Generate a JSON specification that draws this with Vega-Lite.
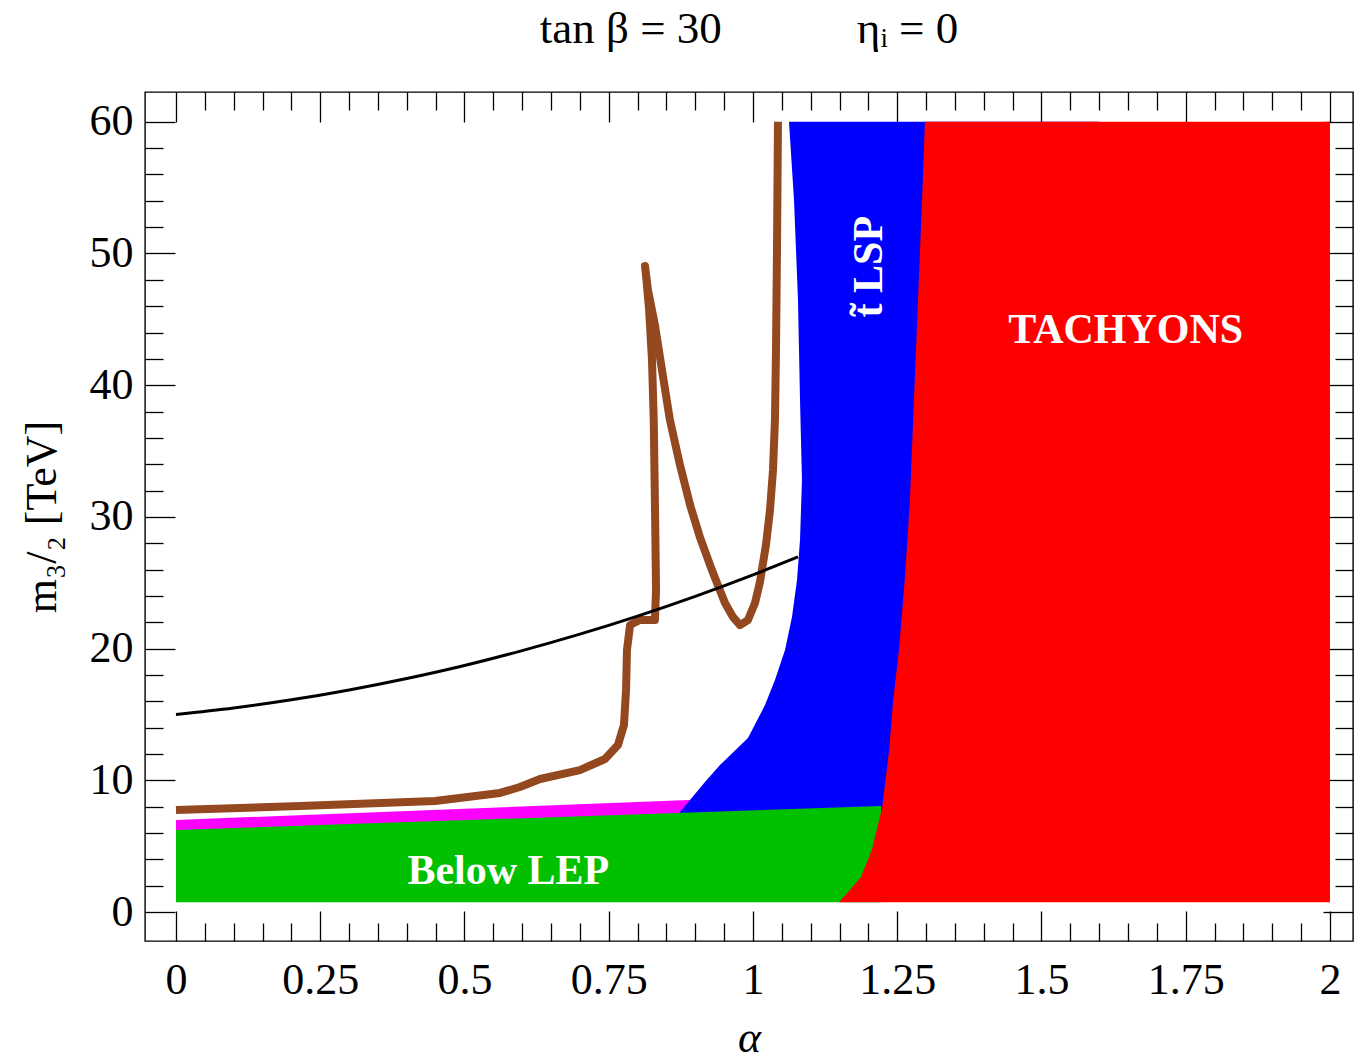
{
  "$schema": "https://vega.github.io/schema/vega-lite/v6.json",
  "width": 1208,
  "height": 849,
  "autosize": {"type": "none"},
  "padding": {"left": 145, "top": 92, "right": 1, "bottom": 120},
  "background": "white",
  "title": {
    "text": "tan β = 30\u2003\u2003\u2003ηᵢ = 0",
    "font": "Liberation Serif",
    "fontSize": 45,
    "fontWeight": "normal",
    "color": "black",
    "anchor": "middle",
    "frame": "group",
    "baseline": "alphabetic",
    "offset": 3
  },
  "config": {
    "view": {"stroke": "black", "strokeWidth": 1.4},
    "axis": {
      "domain": false,
      "grid": false,
      "tickColor": "black",
      "tickWidth": 1.3,
      "labelFont": "Liberation Serif",
      "labelFontSize": 44,
      "labelColor": "black",
      "labelOverlap": false,
      "labelFlush": false,
      "labelBound": false,
      "titleFont": "Liberation Serif",
      "titleFontSize": 44,
      "titleFontWeight": "normal",
      "titleColor": "black"
    }
  },
  "datasets": {
    "red": [
      {"a": 1.149, "m": 0.75}, {"a": 1.168, "m": 1.67}, {"a": 1.187, "m": 2.66},
      {"a": 1.206, "m": 4.71}, {"a": 1.224, "m": 7.97}, {"a": 1.236, "m": 12.3},
      {"a": 1.243, "m": 16.1}, {"a": 1.253, "m": 19.89}, {"a": 1.263, "m": 25.21},
      {"a": 1.272, "m": 31.28}, {"a": 1.279, "m": 38.88}, {"a": 1.286, "m": 46.47},
      {"a": 1.293, "m": 54.06}, {"a": 1.298, "m": 60}
    ],
    "blue": [
      {"a": 0.86, "m": 6.5}, {"a": 0.8666, "m": 7.21}, {"a": 0.8908, "m": 8.5},
      {"a": 0.9168, "m": 9.87}, {"a": 0.9428, "m": 11.16}, {"a": 0.9913, "m": 13.21},
      {"a": 1.0208, "m": 15.72}, {"a": 1.0381, "m": 17.62}, {"a": 1.0555, "m": 19.89},
      {"a": 1.0676, "m": 22.4}, {"a": 1.0763, "m": 25.21}, {"a": 1.0815, "m": 28.25},
      {"a": 1.0849, "m": 32.8}, {"a": 1.0815, "m": 38.88}, {"a": 1.078, "m": 46.47},
      {"a": 1.0711, "m": 54.06}, {"a": 1.0624, "m": 60}
    ],
    "green": [
      {"a": 0, "top": 6.23}, {"a": 1.222, "top": 8.05}
    ],
    "magenta": [
      {"a": 0, "top": 6.99, "bottom": 6.0}, {"a": 0.9, "top": 8.53, "bottom": 7.3}
    ],
    "brown": [
      {"a": 0, "m": 7.75}, {"a": 0.215, "m": 8.05}, {"a": 0.449, "m": 8.43},
      {"a": 0.5615, "m": 9.04}, {"a": 0.596, "m": 9.49}, {"a": 0.631, "m": 10.1},
      {"a": 0.7, "m": 10.78}, {"a": 0.7435, "m": 11.62}, {"a": 0.766, "m": 12.68},
      {"a": 0.7764, "m": 14.2}, {"a": 0.78, "m": 16.86}, {"a": 0.7816, "m": 19.89},
      {"a": 0.787, "m": 21.79}, {"a": 0.804, "m": 22.17}, {"a": 0.83, "m": 22.17},
      {"a": 0.832, "m": 24.45}, {"a": 0.83, "m": 31.28}, {"a": 0.828, "m": 37.36},
      {"a": 0.825, "m": 41.91}, {"a": 0.82, "m": 45.71}, {"a": 0.8146, "m": 48.37},
      {"a": 0.8128, "m": 49.05}, {"a": 0.818, "m": 47.23}, {"a": 0.83, "m": 44.57},
      {"a": 0.8423, "m": 41.15}, {"a": 0.856, "m": 37.36}, {"a": 0.8735, "m": 33.94},
      {"a": 0.891, "m": 30.9}, {"a": 0.908, "m": 28.47}, {"a": 0.9255, "m": 26.35},
      {"a": 0.9376, "m": 24.98}, {"a": 0.9515, "m": 23.46}, {"a": 0.9653, "m": 22.4},
      {"a": 0.9775, "m": 21.79}, {"a": 0.9913, "m": 22.17}, {"a": 1.0035, "m": 23.46},
      {"a": 1.0121, "m": 25.06}, {"a": 1.0225, "m": 27.87}, {"a": 1.0295, "m": 30.52},
      {"a": 1.0347, "m": 33.56}, {"a": 1.0381, "m": 37.36}, {"a": 1.0399, "m": 42.67},
      {"a": 1.0416, "m": 50.27}, {"a": 1.0433, "m": 60}
    ],
    "black": [
      {"a": 0, "m": 15.0}, {"a": 0.1, "m": 15.49}, {"a": 0.2, "m": 16.11},
      {"a": 0.3, "m": 16.86}, {"a": 0.4, "m": 17.73}, {"a": 0.5, "m": 18.72},
      {"a": 0.6, "m": 19.85}, {"a": 0.7, "m": 21.1}, {"a": 0.8, "m": 22.47},
      {"a": 0.9, "m": 23.97}, {"a": 1.0, "m": 25.6}, {"a": 1.078, "m": 26.96}
    ],
    "labels": [
      {"a": 1.646, "m": 44.2, "label": "TACHYONS"},
      {"a": 0.576, "m": 3.08, "label": "Below LEP"}
    ],
    "vlabels": [
      {"a": 1.201, "m": 49.0, "label": "t̃ LSP"}
    ]
  },
  "resolve": {"axis": {"x": "independent", "y": "independent"}},
  "layer": [
    {
      "data": {"name": "magenta"},
      "mark": {"type": "area", "color": "#ff00ff", "clip": true},
      "encoding": {
        "x": {"field": "a", "type": "quantitative", "scale": {"domain": [-0.0537, 2.0399], "nice": false, "zero": false},
          "axis": {
            "orient": "bottom",
            "values": [0,0.05,0.1,0.15,0.2,0.25,0.3,0.35,0.4,0.45,0.5,0.55,0.6,0.65,0.7,0.75,0.8,0.85,0.9,0.95,1,1.05,1.1,1.15,1.2,1.25,1.3,1.35,1.4,1.45,1.5,1.55,1.6,1.65,1.7,1.75,1.8,1.85,1.9,1.95,2],
            "tickSize": {"condition": {"test": "abs(datum.value*4 - round(datum.value*4)) < 0.001", "value": -30}, "value": -18},
            "labelExpr": "abs(datum.value*4 - round(datum.value*4)) < 0.001 ? format(datum.value, '~g') : ''",
            "labelPadding": 47,
            "title": "α",
            "titleFontStyle": "italic",
            "titleBaseline": "alphabetic",
            "titleY": 110
          }
        },
        "y": {"field": "top", "type": "quantitative", "scale": {"domain": [-2.2, 62.26], "nice": false, "zero": false},
          "axis": {
            "orient": "left",
            "values": [0,2,4,6,8,10,12,14,16,18,20,22,24,26,28,30,32,34,36,38,40,42,44,46,48,50,52,54,56,58,60],
            "tickSize": {"condition": {"test": "abs(datum.value/10 - round(datum.value/10)) < 0.001", "value": -30}, "value": -18},
            "labelExpr": "abs(datum.value/10 - round(datum.value/10)) < 0.001 ? format(datum.value, '~g') : ''",
            "labelPadding": 42,
            "title": "m₃/₂ [TeV]",
            "titleBaseline": "alphabetic",
            "titleX": -90
          }
        },
        "y2": {"field": "bottom"}
      }
    },
    {
      "data": {"name": "blue"},
      "mark": {"type": "area", "orient": "horizontal", "color": "#0000ff", "clip": true},
      "encoding": {
        "y": {"field": "m", "type": "quantitative", "scale": {"domain": [-2.2, 62.26], "nice": false, "zero": false},
          "axis": {
            "orient": "right",
            "values": [0,2,4,6,8,10,12,14,16,18,20,22,24,26,28,30,32,34,36,38,40,42,44,46,48,50,52,54,56,58,60],
            "tickSize": {"condition": {"test": "abs(datum.value/10 - round(datum.value/10)) < 0.001", "value": -30}, "value": -18},
            "labels": false,
            "title": null
          }
        },
        "x": {"field": "a", "type": "quantitative", "scale": {"domain": [-0.0537, 2.0399], "nice": false, "zero": false},
          "axis": {
            "orient": "top",
            "values": [0,0.05,0.1,0.15,0.2,0.25,0.3,0.35,0.4,0.45,0.5,0.55,0.6,0.65,0.7,0.75,0.8,0.85,0.9,0.95,1,1.05,1.1,1.15,1.2,1.25,1.3,1.35,1.4,1.45,1.5,1.55,1.6,1.65,1.7,1.75,1.8,1.85,1.9,1.95,2],
            "tickSize": {"condition": {"test": "abs(datum.value*4 - round(datum.value*4)) < 0.001", "value": -30}, "value": -18},
            "labels": false,
            "title": null
          }
        },
        "x2": {"datum": 1.6},
        "order": {"value": null}
      }
    },
    {
      "data": {"name": "green"},
      "mark": {"type": "area", "color": "#00c000", "clip": true},
      "encoding": {
        "x": {"field": "a", "type": "quantitative", "axis": null},
        "y": {"field": "top", "type": "quantitative", "axis": null},
        "y2": {"datum": 0.75}
      }
    },
    {
      "data": {"name": "red"},
      "mark": {"type": "area", "orient": "horizontal", "color": "#ff0000", "clip": true},
      "encoding": {
        "y": {"field": "m", "type": "quantitative", "axis": null},
        "x": {"field": "a", "type": "quantitative", "axis": null},
        "x2": {"datum": 2},
        "order": {"value": null}
      }
    },
    {
      "data": {"name": "brown"},
      "mark": {"type": "line", "color": "#94481f", "strokeWidth": 8, "strokeJoin": "round", "strokeCap": "butt", "clip": true},
      "encoding": {
        "x": {"field": "a", "type": "quantitative", "axis": null},
        "y": {"field": "m", "type": "quantitative", "axis": null},
        "order": {"value": null}
      }
    },
    {
      "data": {"name": "black"},
      "mark": {"type": "line", "color": "black", "strokeWidth": 3, "interpolate": "monotone", "clip": true},
      "encoding": {
        "x": {"field": "a", "type": "quantitative", "axis": null},
        "y": {"field": "m", "type": "quantitative", "axis": null}
      }
    },
    {
      "data": {"name": "labels"},
      "mark": {"type": "text", "font": "Liberation Serif", "fontSize": 42, "fontWeight": "bold", "color": "white", "align": "center", "baseline": "middle"},
      "encoding": {
        "x": {"field": "a", "type": "quantitative", "axis": null},
        "y": {"field": "m", "type": "quantitative", "axis": null},
        "text": {"field": "label"}
      }
    },
    {
      "data": {"name": "vlabels"},
      "mark": {"type": "text", "font": "Liberation Serif", "fontSize": 42, "fontWeight": "bold", "color": "white", "align": "center", "baseline": "middle", "angle": 270},
      "encoding": {
        "x": {"field": "a", "type": "quantitative", "axis": null},
        "y": {"field": "m", "type": "quantitative", "axis": null},
        "text": {"field": "label"}
      }
    }
  ]
}
